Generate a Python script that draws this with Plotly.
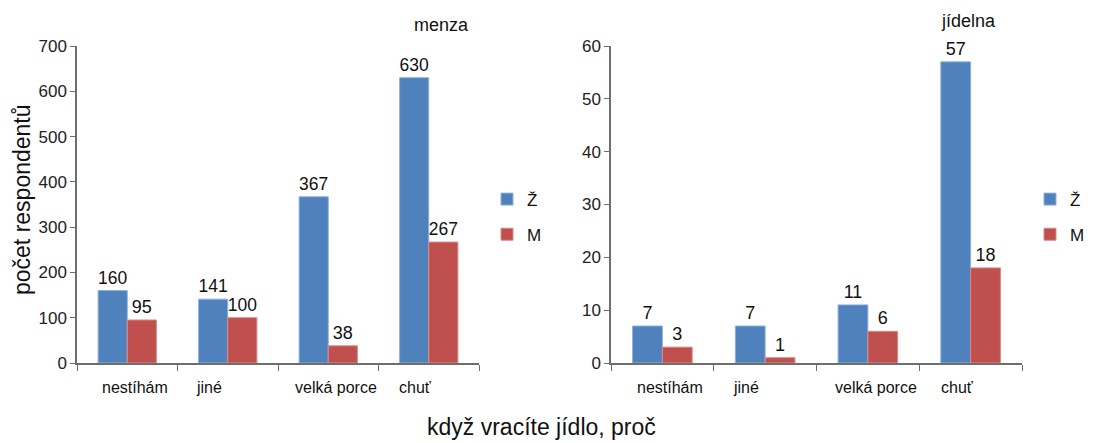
import plotly.graph_objects as go

# Reasons for returning food, by sex, for two canteen types
categories = ["nestíhám", "jiné", "velká porce", "chuť"]
menza_z = [160, 141, 367, 630]
menza_m = [95, 100, 38, 267]
jidelna_z = [7, 7, 11, 57]
jidelna_m = [3, 1, 6, 18]
series_names = ["Ž", "M"]
panel_titles = ["menza", "jídelna"]
menza_yticks = [0, 100, 200, 300, 400, 500, 600, 700]
jidelna_yticks = [0, 10, 20, 30, 40, 50, 60]

BLUE = "#4F81BD"
RED = "#C0504D"
FONT = "Liberation Sans, Arial, sans-serif"
AXIS = "#6e6e6e"

fig = go.Figure()

def add_bars(vals, name, color, edge, xa, ya, legend):
    fig.add_trace(go.Bar(
        x=categories, y=vals, name=name, xaxis=xa, yaxis=ya, legend=legend,
        legendgroup=legend + name,
        marker=dict(color=color, line=dict(color=edge, width=1)),
        text=[str(v) for v in vals], textposition="outside",
        textfont=dict(size=18, color="#111", family=FONT),
        cliponaxis=False,
    ))

add_bars(menza_z, series_names[0], BLUE, "#8fb0dc", "x", "y", "legend")
add_bars(menza_m, series_names[1], RED, "#d98a88", "x", "y", "legend")
add_bars(jidelna_z, series_names[0], BLUE, "#8fb0dc", "x2", "y2", "legend2")
add_bars(jidelna_m, series_names[1], RED, "#d98a88", "x2", "y2", "legend2")

xcommon = dict(
    type="category", tickson="boundaries", ticks="outside", ticklen=6,
    tickcolor=AXIS, showline=True, linecolor=AXIS, linewidth=1.5,
    showticklabels=False, showgrid=False, zeroline=False, automargin=False,
)
ycommon = dict(
    ticks="outside", ticklen=5, tickcolor=AXIS, showline=True, linecolor=AXIS,
    linewidth=1.5, showgrid=False, zeroline=False, automargin=False,
    tickfont=dict(size=17, color="#222", family=FONT),
)

ydom = [1 - 363 / 443, 1 - 46 / 443]
legend_common = dict(
    font=dict(size=17, color="#111", family=FONT), tracegroupgap=10,
    bgcolor="rgba(0,0,0,0)", yanchor="middle", itemwidth=30,
)

fig.update_layout(
    template="none",
    width=1099, height=443,
    margin=dict(l=0, r=0, t=0, b=0, autoexpand=False),
    paper_bgcolor="white", plot_bgcolor="white",
    font=dict(family=FONT, color="#111"),
    barmode="group", bargap=0.42, bargroupgap=0,
    xaxis=dict(domain=[77 / 1099, 479 / 1099], anchor="y", **xcommon),
    yaxis=dict(domain=ydom, anchor="x", range=[0, 700],
               tickvals=menza_yticks, **ycommon),
    xaxis2=dict(domain=[611 / 1099, 1022 / 1099], anchor="y2", **xcommon),
    yaxis2=dict(domain=ydom, anchor="x2", range=[0, 60],
                tickvals=jidelna_yticks, **ycommon),
    legend=dict(x=487 / 1099, y=0.51, **legend_common),
    legend2=dict(x=1030 / 1099, y=0.51, **legend_common),
    showlegend=True,
)

def label(text, x, y, size, xref="paper", xshift=0, angle=0):
    fig.add_annotation(
        x=x, y=y, xref=xref, yref="paper", xshift=xshift, text=text,
        textangle=angle, showarrow=False, xanchor="center", yanchor="middle",
        font=dict(size=size, family=FONT, color="#111"),
    )

# Category labels under each panel, nudged as in the original layout
label_shift = [8, -19, 8, -13]
for xref in ("x", "x2"):
    for cat, dx in zip(categories, label_shift):
        label(cat, cat, 1 - 387 / 443, 16, xref=xref, xshift=dx)

# Panel titles
label(panel_titles[0], 441 / 1099, 1 - 25 / 443, 18)
label(panel_titles[1], 968 / 1099, 1 - 21 / 443, 18)

# Shared axis titles
label("počet respondentů", 22 / 1099, 1 - 200 / 443, 23, angle=-90)
label("když vracíte jídlo, proč", 541 / 1099, 1 - 427 / 443, 23)

fig.write_html("out.html")
